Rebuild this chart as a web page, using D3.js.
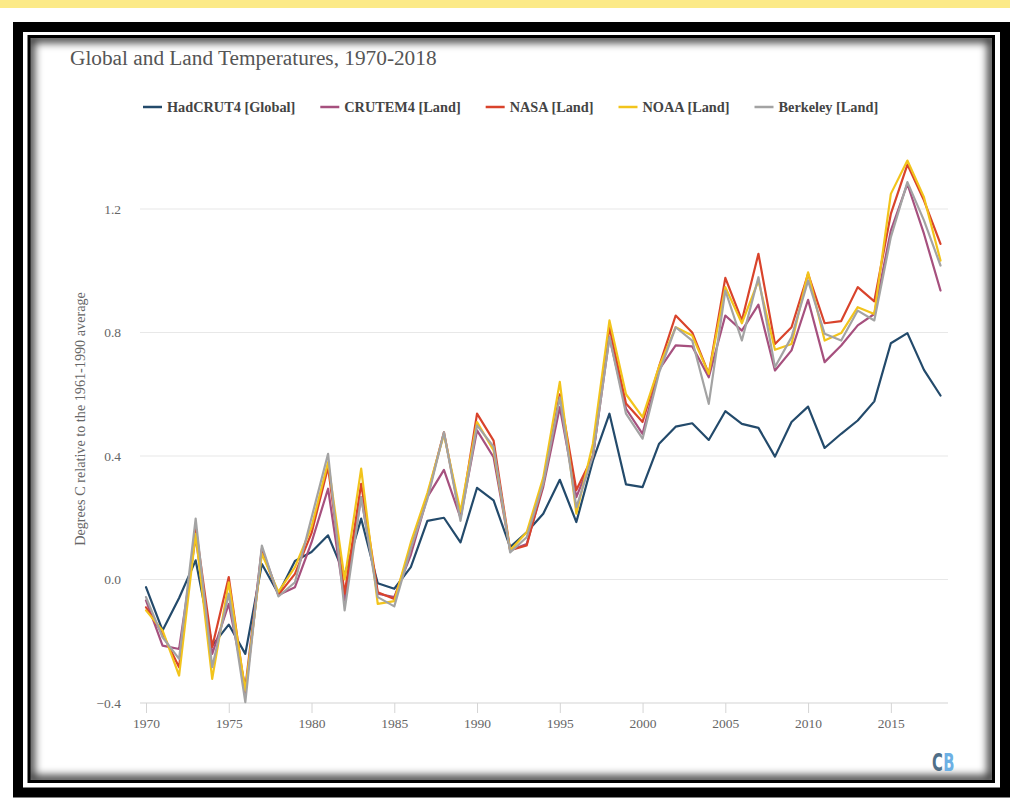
<!DOCTYPE html>
<html>
<head>
<meta charset="utf-8">
<script src="https://cdn.jsdelivr.net/npm/d3@7"></script>
<style>
  html, body { margin: 0; padding: 0; background: #ffffff; }
  svg { display: block; }
</style>
</head>
<body>
<svg id="chart" width="1010" height="799"></svg>
<script>
// ---------- data ----------
const years = d3.range(1970, 2019);
const seriesNames = ["HadCRUT4 [Global]", "CRUTEM4 [Land]", "NASA [Land]", "NOAA [Land]", "Berkeley [Land]"];
const seriesColors = ["#234a6b", "#a6507e", "#d9432b", "#f2c41c", "#a3a3a3"];

const hadcrut4 = [-0.025,-0.165,-0.06,0.062,-0.214,-0.146,-0.241,0.05,-0.046,0.06,
  0.089,0.143,0.015,0.197,-0.012,-0.03,0.04,0.19,0.20,0.12,
  0.297,0.256,0.105,0.153,0.213,0.323,0.186,0.385,0.537,0.308,
  0.299,0.44,0.495,0.506,0.452,0.545,0.504,0.491,0.398,0.51,
  0.56,0.426,0.472,0.515,0.577,0.765,0.798,0.679,0.596];
const crutem4 = [-0.068,-0.214,-0.225,0.137,-0.241,-0.079,-0.35,0.1,-0.05,-0.025,
  0.12,0.294,-0.068,0.267,-0.046,-0.057,0.08,0.267,0.355,0.2,
  0.483,0.396,0.095,0.115,0.3,0.558,0.267,0.4,0.785,0.553,
  0.472,0.68,0.758,0.755,0.655,0.855,0.806,0.89,0.677,0.742,
  0.906,0.704,0.758,0.823,0.86,1.13,1.281,1.12,0.936];
const nasa = [-0.09,-0.176,-0.284,0.17,-0.219,0.008,-0.37,0.094,-0.05,0.018,
  0.15,0.364,-0.046,0.31,-0.041,-0.063,0.1,0.27,0.477,0.2,
  0.537,0.45,0.095,0.11,0.31,0.6,0.29,0.4,0.817,0.57,
  0.51,0.69,0.855,0.8,0.666,0.977,0.839,1.055,0.763,0.817,
  0.99,0.83,0.837,0.947,0.901,1.184,1.344,1.228,1.087];
const noaa = [-0.10,-0.165,-0.311,0.148,-0.322,-0.009,-0.36,0.083,-0.04,0.04,
  0.17,0.38,0.0,0.359,-0.079,-0.07,0.12,0.28,0.47,0.22,
  0.51,0.418,0.095,0.153,0.33,0.64,0.213,0.44,0.839,0.6,
  0.526,0.69,0.817,0.79,0.666,0.947,0.83,0.968,0.744,0.763,
  0.995,0.774,0.798,0.882,0.86,1.249,1.357,1.238,1.033];
const berkeley = [-0.057,-0.187,-0.257,0.197,-0.284,-0.046,-0.397,0.11,-0.055,-0.009,
  0.2,0.407,-0.1,0.267,-0.057,-0.087,0.1,0.26,0.477,0.19,
  0.499,0.43,0.088,0.137,0.31,0.59,0.234,0.4,0.785,0.537,
  0.456,0.67,0.817,0.774,0.569,0.936,0.774,0.979,0.688,0.785,
  0.968,0.796,0.774,0.871,0.839,1.109,1.287,1.163,1.017];
const seriesValues = [hadcrut4, crutem4, nasa, noaa, berkeley];

const yTicks = [-0.4, 0.0, 0.4, 0.8, 1.2];
const xTicks = [1970, 1975, 1980, 1985, 1990, 1995, 2000, 2005, 2010, 2015];
const titleText = "Global and Land Temperatures, 1970-2018";
const yAxisTitle = "Degrees C relative to the 1961-1990 average";
const logoParts = ["C", "B"];
const logoColors = ["#4f6f88", "#6cb0e4"];

// ---------- drawing ----------
const svg = d3.select("#chart");
const defs = svg.append("defs");
const serif = "'Liberation Serif', 'DejaVu Serif', serif";

// top yellow band
svg.append("rect").attr("x", 0).attr("y", 0).attr("width", 1010).attr("height", 8).attr("fill", "#fcea88");

// inner shadow panel
defs.append("clipPath").attr("id", "panelClip")
  .append("rect").attr("x", 30).attr("y", 38).attr("width", 962).attr("height", 742);
defs.append("filter").attr("id", "blurShadow").attr("x", "-10%").attr("y", "-10%").attr("width", "120%").attr("height", "120%")
  .append("feGaussianBlur").attr("stdDeviation", 4.5);
svg.append("g").attr("clip-path", "url(#panelClip)")
  .append("rect").attr("x", 30).attr("y", 38).attr("width", 962).attr("height", 742)
  .attr("fill", "none").attr("stroke", "#000").attr("stroke-opacity", 0.8).attr("stroke-width", 9)
  .attr("filter", "url(#blurShadow)");

// frames
svg.append("rect").attr("x", 18).attr("y", 27).attr("width", 987).attr("height", 765.5)
  .attr("fill", "none").attr("stroke", "#000").attr("stroke-width", 10);
svg.append("rect").attr("x", 29).attr("y", 36.5).attr("width", 964.5).attr("height", 745)
  .attr("fill", "none").attr("stroke", "#000").attr("stroke-width", 3);

// scales
const x = d3.scaleLinear().domain([1970, 2018]).range([146, 940.5]);
const y = d3.scaleLinear().domain([-0.4, 1.2]).range([703, 209]);
const gridX0 = 140, gridX1 = 948;

// title
svg.append("text").attr("x", 70).attr("y", 65)
  .attr("font-family", serif).attr("font-size", 21.3).attr("fill", "#555")
  .text(titleText);

// gridlines
svg.append("g").selectAll("line").data(yTicks.filter(d => d > -0.4)).join("line")
  .attr("x1", gridX0).attr("x2", gridX1)
  .attr("y1", d => y(d)).attr("y2", d => y(d))
  .attr("stroke", "#e8e8e8").attr("stroke-width", 1.2);

// x axis
const xAxis = d3.axisBottom(x).tickValues(xTicks).tickFormat(d3.format("d")).tickSize(10).tickSizeOuter(0);
const gx = svg.append("g").attr("transform", `translate(0,${y(-0.4)})`).call(xAxis);
gx.select(".domain").remove();
gx.selectAll(".tick line").attr("stroke", "#d4d4d4");
gx.selectAll(".tick text").attr("font-family", serif).attr("font-size", 13.5).attr("fill", "#666").attr("dy", "0.9em");
svg.append("line").attr("x1", gridX0).attr("x2", gridX1).attr("y1", y(-0.4)).attr("y2", y(-0.4))
  .attr("stroke", "#d4d4d4").attr("stroke-width", 1.2);

// y axis labels
const yAxis = d3.axisLeft(y).tickValues(yTicks).tickFormat(d3.format(".1f")).tickSize(0);
const gy = svg.append("g").attr("transform", "translate(128,0)").call(yAxis);
gy.select(".domain").remove();
gy.selectAll(".tick text").attr("font-family", serif).attr("font-size", 13.5).attr("fill", "#666").attr("x", -7);

// y axis title
svg.append("text").attr("transform", "translate(85,419) rotate(-90)")
  .attr("text-anchor", "middle").attr("font-family", serif).attr("font-size", 14.2).attr("fill", "#666")
  .text(yAxisTitle);

// series lines
const line = d3.line().x((d, i) => x(years[i])).y(d => y(d));
svg.append("g").selectAll("path").data(seriesValues).join("path")
  .attr("d", d => line(d))
  .attr("fill", "none")
  .attr("stroke", (d, i) => seriesColors[i])
  .attr("stroke-width", 2.2)
  .attr("stroke-linejoin", "round")
  .attr("stroke-linecap", "round");

// legend
const legend = svg.append("g").attr("transform", "translate(143,107)");
let lx = 0;
seriesNames.forEach((name, i) => {
  const g = legend.append("g").attr("transform", `translate(${lx},0)`);
  g.append("line").attr("x1", 0).attr("x2", 19).attr("y1", 0).attr("y2", 0)
    .attr("stroke", seriesColors[i]).attr("stroke-width", 2.5);
  const t = g.append("text").attr("x", 24).attr("y", 5)
    .attr("font-family", serif).attr("font-weight", "bold").attr("font-size", 14.3).attr("fill", "#444")
    .text(name);
  lx += 24 + t.node().getComputedTextLength() + 25;
});

// CB logo (two adjacent glyphs, condensed)
let logoX = 932;
logoParts.forEach((ch, i) => {
  const t = svg.append("text")
    .attr("transform", `translate(${logoX},771) scale(0.82,1.28)`)
    .attr("font-family", "'DejaVu Sans Condensed', 'DejaVu Sans', sans-serif").attr("font-weight", "bold")
    .attr("font-size", 20)
    .attr("fill", logoColors[i]).text(ch);
  logoX += t.node().getComputedTextLength() * 0.82 + 0.5;
});
</script>
</body>
</html>
